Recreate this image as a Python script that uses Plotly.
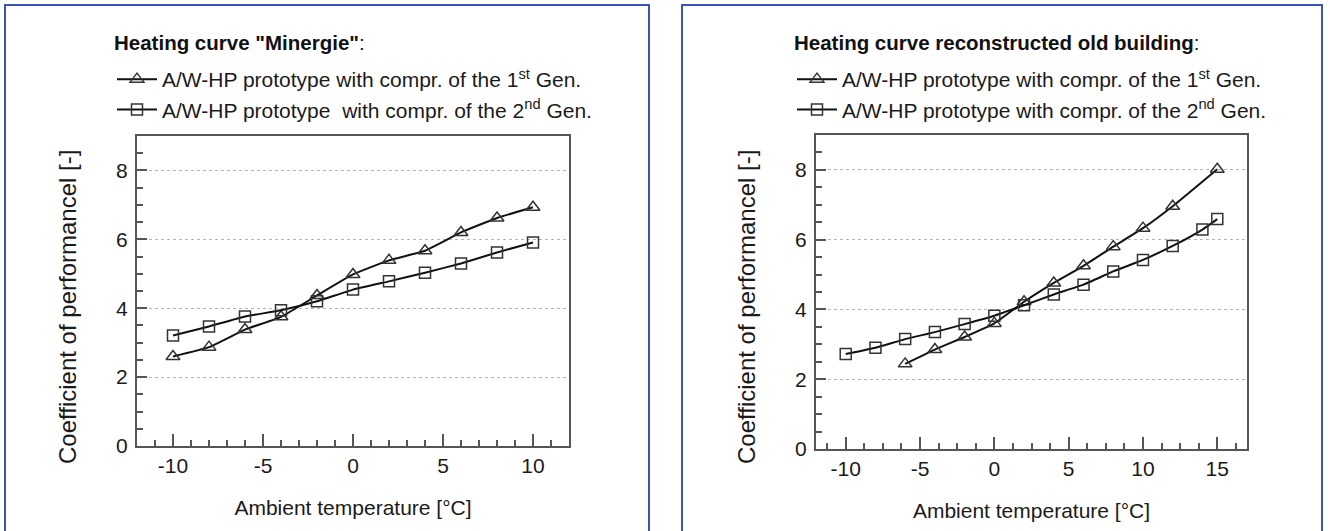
import plotly.graph_objects as go

# ---- data ----
x_left = [-10, -8, -6, -4, -2, 0, 2, 4, 6, 8, 10]
cop_left_gen1 = [2.60, 2.87, 3.38, 3.75, 4.37, 4.98, 5.39, 5.67, 6.20, 6.62, 6.93]
cop_left_gen2 = [3.21, 3.47, 3.76, 3.94, 4.20, 4.54, 4.78, 5.03, 5.30, 5.62, 5.91]

x_right_gen1 = [-6, -4, -2, 0, 2, 4, 6, 8, 10, 12, 15]
cop_right_gen1 = [2.44, 2.85, 3.21, 3.60, 4.22, 4.76, 5.25, 5.80, 6.33, 6.96, 8.02]
x_right_gen2 = [-10, -8, -6, -4, -2, 0, 2, 4, 6, 8, 10, 12, 14, 15]
cop_right_gen2 = [2.72, 2.90, 3.15, 3.35, 3.58, 3.82, 4.12, 4.43, 4.71, 5.09, 5.42, 5.82, 6.29, 6.59]

x_ticks_left = [-10, -5, 0, 5, 10]
x_ticks_right = [-10, -5, 0, 5, 10, 15]
x_ticktext_left = ["-10", "-5", "0", "5", "10"]
x_ticktext_right = ["-10", "-5", "0", "5", "10", "15"]
y_ticks = [0, 2, 4, 6, 8]
y_ticktext = ["0", "2", "4", "6", "8"]

title_left = '<b>Heating curve "Minergie"</b>:'
title_right = '<b>Heating curve reconstructed old building</b>:'
name_gen1 = "A/W-HP prototype with compr. of the 1<sup>st</sup> Gen."
name_gen2_left = "A/W-HP prototype\u00a0 with compr. of the 2<sup>nd</sup> Gen."
name_gen2_right = "A/W-HP prototype with compr. of the 2<sup>nd</sup> Gen."
x_title = "Ambient temperature [°C]"
y_title = "Coefficient of performancel [-]"

W, H = 1330, 531
FONT = "Liberation Sans, Arial, sans-serif"
LINE = "#111111"
MARK = "#333333"
BLUE = "#3b55b6"
AXIS = "#555555"
TXT = "#1a1a1a"

fig = go.Figure()

def add(x, y, name, sym, size, xa, ya, leg):
    fig.add_trace(go.Scatter(
        x=x, y=y, name=name, mode="lines+markers",
        line=dict(color=LINE, width=2, shape="spline", smoothing=0.4),
        marker=dict(symbol=sym, size=size, color=MARK, line=dict(color=MARK, width=1.5)),
        xaxis=xa, yaxis=ya, legend=leg, showlegend=True,
    ))

add(x_left, cop_left_gen1, name_gen1, "triangle-up-open", 12, "x", "y", "legend")
add(x_left, cop_left_gen2, name_gen2_left, "square-open", 11, "x", "y", "legend")
add(x_right_gen1, cop_right_gen1, name_gen1, "triangle-up-open", 12, "x2", "y2", "legend2")
add(x_right_gen2, cop_right_gen2, name_gen2_right, "square-open", 11, "x2", "y2", "legend2")

def xax(domain, rng, minor_dt, tv, tt):
    return dict(
        domain=domain, range=rng, tickmode="array", tickvals=tv, ticktext=tt,
        ticks="inside", ticklen=12, ticklabelstandoff=0,
        tickwidth=1.5, tickcolor=AXIS, showline=True, linecolor=AXIS, linewidth=2,
        mirror=True, showgrid=False, zeroline=False, automargin=False,
        minor=dict(dtick=minor_dt, tick0=0, ticks="inside", ticklen=6, tickcolor=AXIS, tickwidth=1.5),
        tickfont=dict(size=21, color=TXT, family=FONT),
        title=dict(text=x_title, font=dict(size=21, color=TXT, family=FONT), standoff=24),
    )

def yax(domain, anchor):
    return dict(
        domain=domain, range=[0, 9], tickmode="array", tickvals=y_ticks, ticktext=y_ticktext,
        ticks="inside", ticklen=10, ticklabelstandoff=3,
        tickwidth=1.5, tickcolor=AXIS, showline=True, linecolor=AXIS, linewidth=2,
        mirror=True, showgrid=True, gridcolor="#b5b5b5", griddash="dot", gridwidth=1,
        zeroline=False, anchor=anchor, automargin=False,
        minor=dict(dtick=0.5, tick0=0, ticks="inside", ticklen=6, tickcolor=AXIS, tickwidth=1.5, showgrid=False),
        tickfont=dict(size=21, color=TXT, family=FONT),
    )

leg_common = dict(
    xanchor="left", yanchor="top", bgcolor="rgba(0,0,0,0)",
    font=dict(size=21, color=TXT, family=FONT), itemwidth=40,
    tracegroupgap=0, traceorder="normal",
)

def box(x0, x1):
    return dict(type="path", xref="paper", yref="paper",
                path=f"M {x0/W},{-0.05} L {x0/W},{1-5/H} L {x1/W},{1-5/H} L {x1/W},{-0.05}",
                line=dict(color=BLUE, width=2), layer="below")

def ytitle(xc, yc):
    return dict(text=y_title, xref="paper", yref="paper", x=xc / W, y=1 - yc / H,
                xanchor="center", yanchor="middle", textangle=-90, showarrow=False,
                font=dict(size=24, color=TXT, family=FONT))

def ltitle(x0, text):
    return dict(text=text, xref="paper", yref="paper", x=x0 / W, y=1 - 43 / H,
                xanchor="left", yanchor="middle", showarrow=False,
                font=dict(size=20.5, color="#111", family=FONT))

fig.update_layout(
    width=W, height=H, autosize=False,
    margin=dict(l=0, r=0, t=0, b=0, autoexpand=False),
    paper_bgcolor="white", plot_bgcolor="white",
    font=dict(family=FONT, color=TXT),
    xaxis=xax([137 / W, 569 / W], [-12, 12], 1, x_ticks_left, x_ticktext_left),
    yaxis=yax([1 - 446 / H, 1 - 136 / H], "x"),
    xaxis2=dict(xax([816 / W, 1247 / W], [-12, 17], 1.25, x_ticks_right, x_ticktext_right), anchor="y2"),
    yaxis2=yax([1 - 449 / H, 1 - 135 / H], "x2"),
    legend=dict(leg_common, x=112 / W, y=1 - 59 / H),
    legend2=dict(leg_common, x=792 / W, y=1 - 59 / H),
    shapes=[box(5, 649), box(682, 1322)],
    annotations=[ytitle(67, 307), ytitle(746, 307),
                 ltitle(112, title_left), ltitle(792, title_right)],
)

fig.write_html("out.html", config={"displayModeBar": False},
               post_script="document.body.style.margin='0';")
